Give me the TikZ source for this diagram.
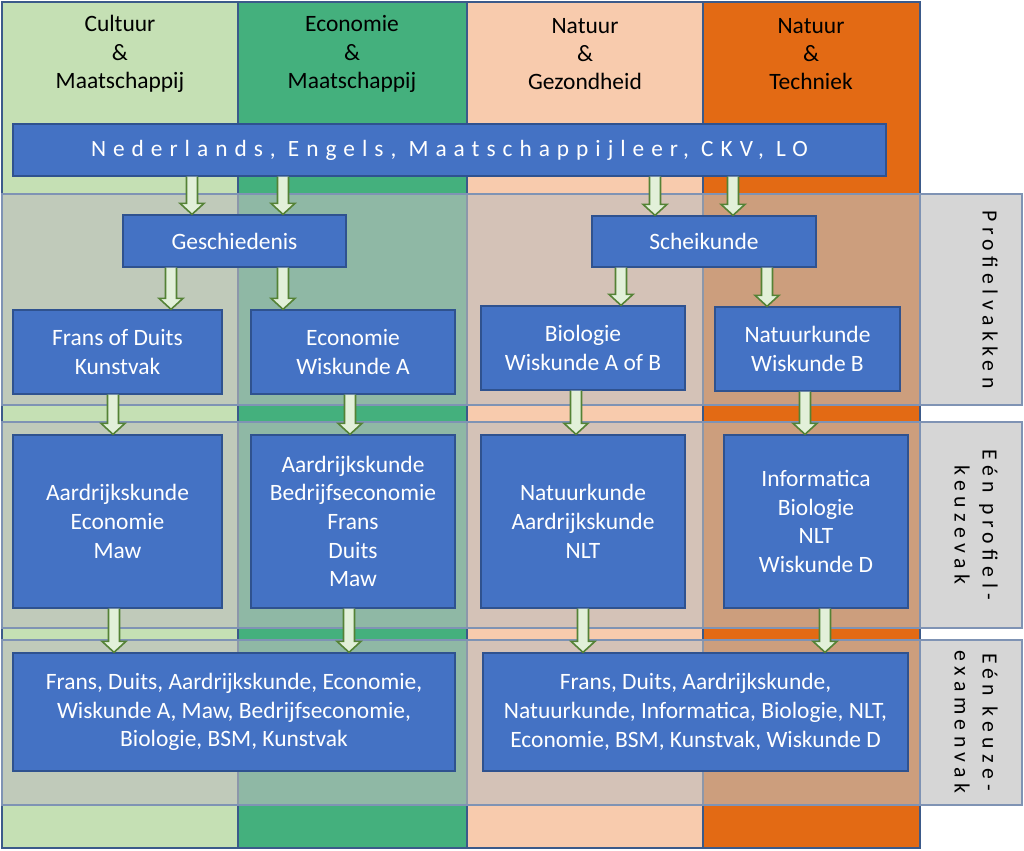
\documentclass[tikz,border=0pt]{standalone}
\usepackage{fontspec}
\setmainfont{Carlito}
\newfontfamily\spacedfont[LetterSpace=25]{Carlito}
\newfontfamily\barfont[LetterSpace=30]{Carlito}
\usetikzlibrary{calc}
\definecolor{cone}{HTML}{C5E0B4}
\definecolor{ctwo}{HTML}{44B07D}
\definecolor{cthree}{HTML}{F8CBAD}
\definecolor{cfour}{HTML}{E36A14}
\definecolor{boxblue}{HTML}{4472C4}
\definecolor{boxedge}{HTML}{2F528F}
\definecolor{coledge}{HTML}{3B5A8A}
\definecolor{bandedge}{HTML}{7F93B4}
\definecolor{arrfillc}{HTML}{E2F0D9}
\definecolor{arrlinec}{HTML}{548235}
\newcommand\px[1]{#1*0.75pt}
\tikzset{
  colrect/.style={draw=coledge, line width=0.9pt},
  band/.style={fill={rgb,255:red,190;green,190;blue,190}, fill opacity=0.62, draw=bandedge, draw opacity=1, line width=0.8pt},
  bluebox/.style={draw=boxedge, fill=boxblue, line width=1pt, text=white, align=center, inner sep=0pt,
    font=\fontsize{17.6}{21.5}\selectfont},
  headtext/.style={align=center, text=black, font=\fontsize{17.6}{21.2}\selectfont},
  sidetext/.style={align=center, text=black, rotate=-90, font=\spacedfont\fontsize{16.3}{21}\selectfont},
  arrfill/.style={fill=arrfillc},
  arrline/.style={draw=arrlinec, line width=1.2pt, line join=miter},
}
\newcommand\blockarrow[3]{%
  \coordinate (bas) at (#1,0 |- #2.south);
  \coordinate (bat) at (#1,0 |- #3.north);
  \fill[arrfill] ($(bas)+(-5.5,0)$) -- ($(bat)+(-5.5,-11)$) -- ($(bat)+(-12,-11)$) -- (bat)
     -- ($(bat)+(12,-11)$) -- ($(bat)+(5.5,-11)$) -- ($(bas)+(5.5,0)$) -- cycle;
  \draw[arrline] ($(bas)+(-5.5,0)$) -- ($(bat)+(-5.5,-11)$) -- ($(bat)+(-12,-11)$) -- (bat)
     -- ($(bat)+(12,-11)$) -- ($(bat)+(5.5,-11)$) -- ($(bas)+(5.5,0)$);
}
\begin{document}
\begin{tikzpicture}[x=0.75pt,y=-0.75pt]
\useasboundingbox (0,0) rectangle (1024,850);
\fill[white] (0,0) rectangle (1024,850);
% columns
\draw[colrect, fill=cone]   (2,2) rectangle (238,848);
\draw[colrect, fill=ctwo]   (238,2) rectangle (467,848);
\draw[colrect, fill=cthree] (467,2) rectangle (703,848);
\draw[colrect, fill=cfour]  (703,2) rectangle (920,848);
% headers
\node[headtext] (h1) at (120,54) {Cultuur\\\&\\Maatschappij};
\node[headtext] (h2) at (352,54) {Economie\\\&\\Maatschappij};
\node[headtext] (h3) at (585,54) {Natuur\\\&\\Gezondheid};
\node[headtext] (h4) at (811,54) {Natuur\\\&\\Techniek};
% bands
\draw[band] (2,194) rectangle (920,405);
\draw[band] (920,194) rectangle (1022,405);
\draw[band] (2,422) rectangle (920,628);
\draw[band] (920,422) rectangle (1022,628);
\draw[band] (2,640) rectangle (920,805);
\draw[band] (920,640) rectangle (1022,805);
% side labels
\node[sidetext] (l1) at (990,299.5) {Profielvakken};
\node[sidetext] (l2) at (976,525) {Eén profiel-\\keuzevak};
\node[sidetext] (l3) at (976,722) {Eén keuze-\\examenvak};
% boxes
\node[bluebox, minimum width=\px{873}, minimum height=\px{52}, font=\barfont\fontsize{17.5}{20}\selectfont] (top) at (449.5,150) {Nederlands, Engels, Maatschappijleer, CKV, LO};
\node[bluebox, minimum width=\px{223}, minimum height=\px{52}] (gesch) at (234.5,241) {Geschiedenis};
\node[bluebox, minimum width=\px{224}, minimum height=\px{51}] (schei) at (704,241.5) {Scheikunde};
\node[bluebox, minimum width=\px{209}, minimum height=\px{84}] (fd) at (117.5,352) {Frans of Duits\\Kunstvak};
\node[bluebox, minimum width=\px{204}, minimum height=\px{84}] (ec) at (353,352) {Economie\\Wiskunde A};
\node[bluebox, minimum width=\px{204}, minimum height=\px{84}] (bio) at (583,348) {Biologie\\Wiskunde A of B};
\node[bluebox, minimum width=\px{185}, minimum height=\px{84}] (nat) at (807.5,349) {Natuurkunde\\Wiskunde B};
\node[bluebox, minimum width=\px{209}, minimum height=\px{173}] (a1) at (117.5,521.5) {Aardrijkskunde\\Economie\\Maw};
\node[bluebox, minimum width=\px{204}, minimum height=\px{173}] (a2) at (353,521.5) {Aardrijkskunde\\Bedrijfseconomie\\Frans\\Duits\\Maw};
\node[bluebox, minimum width=\px{204}, minimum height=\px{173}] (a3) at (583,521.5) {Natuurkunde\\Aardrijkskunde\\NLT};
\node[bluebox, minimum width=\px{184}, minimum height=\px{173}] (a4) at (816,521.5) {Informatica\\Biologie\\NLT\\Wiskunde D};
\node[bluebox, minimum width=\px{442}, minimum height=\px{118}] (e1) at (234,712) {Frans, Duits, Aardrijkskunde, Economie,\\Wiskunde A, Maw, Bedrijfseconomie,\\Biologie, BSM, Kunstvak};
\node[bluebox, minimum width=\px{425}, minimum height=\px{118}] (e2) at (695.5,712) {Frans, Duits, Aardrijkskunde,\\Natuurkunde, Informatica, Biologie, NLT,\\Economie, BSM, Kunstvak, Wiskunde D};
% arrows
\blockarrow{192}{top}{gesch}
\blockarrow{283}{top}{gesch}
\blockarrow{655}{top}{schei}
\blockarrow{733}{top}{schei}
\blockarrow{171}{gesch}{fd}
\blockarrow{283}{gesch}{ec}
\blockarrow{621}{schei}{bio}
\blockarrow{767}{schei}{nat}
\blockarrow{113}{fd}{a1}
\blockarrow{350}{ec}{a2}
\blockarrow{576}{bio}{a3}
\blockarrow{805}{nat}{a4}
\blockarrow{114}{a1}{e1}
\blockarrow{349}{a2}{e1}
\blockarrow{583}{a3}{e2}
\blockarrow{825}{a4}{e2}
\end{tikzpicture}
\end{document}
